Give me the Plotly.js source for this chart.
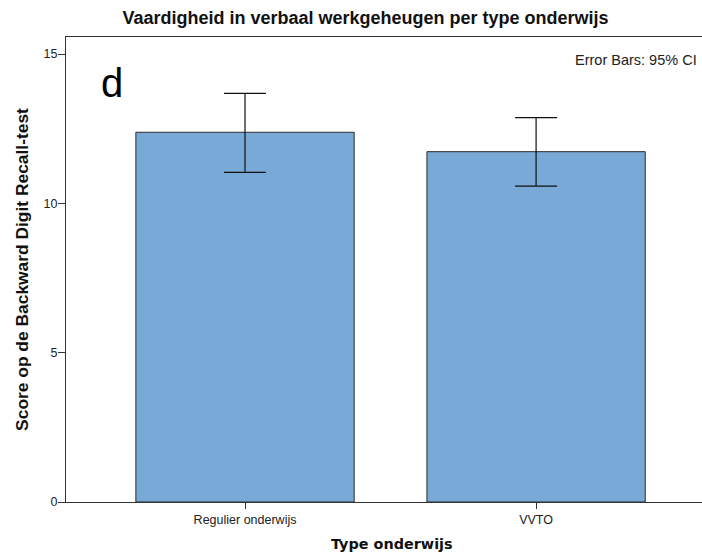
<!DOCTYPE html>
<html>
<head>
<meta charset="utf-8">
<script src="https://cdn.plot.ly/plotly-3.0.1.min.js"></script>
<style>html,body{margin:0;padding:0;background:#fff;}#chart{width:702px;height:558px;}</style>
</head>
<body>
<div id="chart"></div>
<script>
var categories = ["Regulier onderwijs", "VVTO"];
var means = [12.38, 11.73];
var ciUpper = [13.68, 12.87];
var ciLower = [11.04, 10.58];
var yTicks = [0, 5, 10, 15];

var errPlus = means.map(function (m, i) { return ciUpper[i] - m; });
var errMinus = means.map(function (m, i) { return m - ciLower[i]; });

var trace = {
  type: "bar",
  x: categories,
  y: means,
  width: 0.75,
  marker: { color: "#79a9d6", line: { color: "#2b2b2b", width: 1 } },
  error_y: {
    type: "data",
    symmetric: false,
    array: errPlus,
    arrayminus: errMinus,
    color: "#111",
    thickness: 1.2,
    width: 21
  },
  hoverinfo: "none"
};

var layout = {
  width: 702,
  height: 558,
  margin: { l: 66, r: 0, t: 37, b: 56 },
  paper_bgcolor: "#fff",
  plot_bgcolor: "#fff",
  showlegend: false,
  font: { family: "Liberation Sans, Arial, sans-serif", color: "#222" },
  title: {
    text: "Vaardigheid in verbaal werkgeheugen per type onderwijs",
    font: { family: "Liberation Sans, Arial, sans-serif", size: 18, color: "#111", weight: "bold" },
    xref: "container", x: 0.5207, xanchor: "center",
    yref: "container", y: 0.968, yanchor: "middle"
  },
  xaxis: {
    type: "category",
    range: [-0.615, 1.57],
    showline: true, linecolor: "#333", linewidth: 1, mirror: true,
    showgrid: false, zeroline: false,
    ticks: "outside", ticklen: 6, tickcolor: "#333", tickwidth: 1,
    tickfont: { size: 12.5, color: "#222" }
  },
  yaxis: {
    range: [0, 15.57],
    tickvals: yTicks,
    ticktext: yTicks.map(String),
    showline: true, linecolor: "#333", linewidth: 1,
    showgrid: false, zeroline: false,
    ticks: "outside", ticklen: 7, tickcolor: "#333", tickwidth: 1,
    ticklabelstandoff: -2,
    tickfont: { size: 12.5, color: "#222" },
    title: {
      text: "Score op de Backward Digit Recall-test",
      font: { family: "Liberation Sans, Arial, sans-serif", size: 17.4, color: "#111", weight: "bold" },
      standoff: 10
    }
  },
  annotations: [
    {
      text: "Type onderwijs", xref: "paper", yref: "paper",
      x: (392 - 66) / 636, y: (502 - 544) / 465,
      xanchor: "center", yanchor: "middle", showarrow: false,
      font: { family: "DejaVu Sans, sans-serif", size: 14.4, color: "#111", weight: "bold" }
    },
    {
      text: "d", xref: "paper", yref: "paper",
      x: (111.5 - 66) / 636, y: (502 - 83) / 465,
      xanchor: "center", yanchor: "middle", showarrow: false,
      font: { family: "Liberation Sans, Arial, sans-serif", size: 40, color: "#000" }
    },
    {
      text: "Error Bars: 95% CI", xref: "paper", yref: "paper",
      x: (699 - 66) / 636, y: (502 - 60) / 465,
      xanchor: "right", yanchor: "middle", showarrow: false,
      font: { family: "Liberation Sans, Arial, sans-serif", size: 14.5, color: "#222" }
    }
  ]
};

Plotly.newPlot("chart", [trace], layout, { staticPlot: true, displayModeBar: false });
</script>
</body>
</html>
